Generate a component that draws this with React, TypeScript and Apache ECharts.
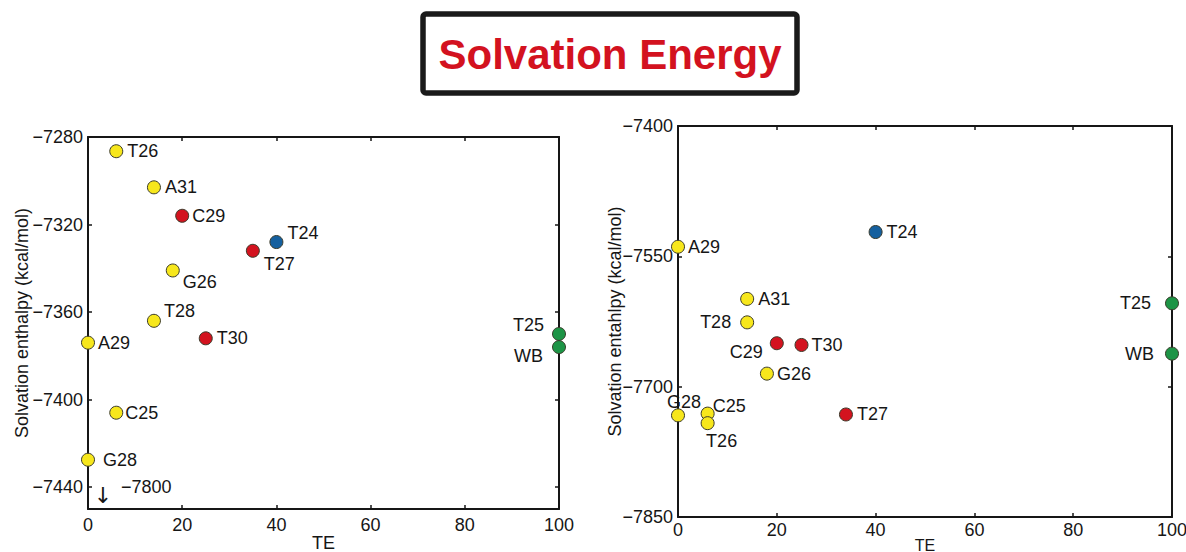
import React, { useEffect, useRef } from "react";
import * as echarts from "echarts";

// ---------- data ----------
const leftNames = ["T26", "A31", "C29", "T24", "T27", "G26", "T28", "T30", "A29", "C25", "G28", "T25", "WB"];
const leftTE = [6, 14, 20, 40, 35, 18, 14, 25, 0, 6, 0, 100, 100];
const leftEnthalpy = [-7286.5, -7303, -7316, -7328, -7332, -7341, -7364, -7372, -7374, -7406, -7427.5, -7370, -7376];
const leftGroup = ["Y", "Y", "R", "B", "R", "Y", "Y", "R", "Y", "Y", "Y", "G", "G"];

const rightNames = ["A29", "T24", "A31", "T28", "C29", "T30", "G26", "G28", "C25", "T26", "T27", "T25", "WB"];
const rightTE = [0, 40, 14, 14, 20, 25, 18, 0, 6, 6, 34, 100, 100];
const rightEnthalpy = [-7539, -7522, -7599, -7626, -7650, -7652, -7685, -7733, -7731, -7742, -7732, -7604, -7662];
const rightGroup = ["Y", "B", "Y", "Y", "R", "R", "Y", "Y", "Y", "Y", "R", "G", "G"];

const xTicks = [0, 20, 40, 60, 80, 100];
const leftYTicks = [-7440, -7400, -7360, -7320, -7280];
const rightYTicks = [-7850, -7700, -7550, -7400];

const titleText = "Solvation Energy";
const xName = "TE";
const leftYName = "Solvation enthalpy (kcal/mol)";
const rightYName = "Solvation entahlpy (kcal/mol)";
const breakArrow = "\u2193";
const breakValue = "\u22127800";

// ---------- styles ----------
const groupColors: Record<string, string> = {
  Y: "#f7e71c",
  R: "#d3131f",
  B: "#15609f",
  G: "#1d9446",
};

type LabelLayout = { position: string; distance: number; offset?: [number, number] };

const leftLabelLayout: Record<string, LabelLayout> = {
  T26: { position: "right", distance: 4 },
  A31: { position: "right", distance: 4 },
  C29: { position: "right", distance: 3 },
  T24: { position: "right", distance: 4, offset: [0, -9] },
  T27: { position: "right", distance: 4, offset: [0, 13] },
  G26: { position: "right", distance: 3, offset: [0, 12] },
  T28: { position: "right", distance: 3, offset: [0, -10] },
  T30: { position: "right", distance: 4 },
  A29: { position: "right", distance: 3 },
  C25: { position: "right", distance: 2 },
  G28: { position: "right", distance: 8 },
  T25: { position: "left", distance: 8, offset: [0, -9] },
  WB: { position: "left", distance: 9, offset: [0, 9] },
};

const rightLabelLayout: Record<string, LabelLayout> = {
  A29: { position: "right", distance: 3 },
  T24: { position: "right", distance: 4 },
  A31: { position: "right", distance: 4 },
  T28: { position: "left", distance: 9 },
  C29: { position: "left", distance: 7, offset: [0, 9] },
  T30: { position: "right", distance: 3 },
  G26: { position: "right", distance: 3 },
  G28: { position: "top", distance: 0, offset: [6, 3] },
  C25: { position: "right", distance: -2, offset: [0, -8] },
  T26: { position: "bottom", distance: 2, offset: [14, 0] },
  T27: { position: "right", distance: 4 },
  T25: { position: "left", distance: 14 },
  WB: { position: "left", distance: 11 },
};

const FONT = "'Liberation Sans', Arial, Helvetica, sans-serif";
const INK = "#161616";

const minus = (v: number) => String(v).replace("-", "\u2212");

function buildData(names: string[], te: number[], h: number[], grp: string[], layout: Record<string, LabelLayout>) {
  return names.map((n, i) => {
    const l = layout[n];
    return {
      name: n,
      value: [te[i], h[i]],
      itemStyle: { color: groupColors[grp[i]] },
      label: {
        show: true,
        formatter: n,
        position: l.position,
        distance: l.distance,
        offset: l.offset || [0, 0],
        color: INK,
        fontSize: 18,
        fontFamily: FONT,
      },
    };
  });
}

function xAxisPair(gridIndex: number, labelMargin: number, nameGap: number, nameSize: number) {
  const common = {
    gridIndex,
    type: "value",
    min: 0,
    max: 100,
    interval: 20,
    splitLine: { show: false },
    axisLine: { show: true, onZero: false, lineStyle: { color: INK, width: 2 } },
    axisTick: { show: true, inside: true, length: 4, lineStyle: { color: INK, width: 1.5 } },
  };
  return [
    {
      ...common,
      position: "bottom",
      name: xName,
      nameLocation: "middle",
      nameGap,
      nameMoveOverlap: false,
      nameTextStyle: { fontSize: nameSize, color: INK, fontFamily: FONT, verticalAlign: "top" },
      axisLabel: { show: true, fontSize: 18, color: INK, margin: labelMargin, fontFamily: FONT },
    },
    { ...common, position: "top", axisLabel: { show: false } },
  ];
}

function yAxisPair(gridIndex: number, min: number, max: number, ticks: number[], name: string, nameGap: number) {
  const common = {
    gridIndex,
    type: "value",
    min,
    max,
    splitLine: { show: false },
    axisLine: { show: true, onZero: false, lineStyle: { color: INK, width: 2 } },
    axisTick: { show: true, inside: true, length: 4, customValues: ticks, lineStyle: { color: INK, width: 1.5 } },
  };
  return [
    {
      ...common,
      position: "left",
      name,
      nameLocation: "middle",
      nameGap,
      nameMoveOverlap: false,
      nameTextStyle: { fontSize: 18, color: INK, fontFamily: FONT },
      axisLabel: {
        show: true,
        fontSize: 18,
        color: INK,
        margin: 5,
        fontFamily: FONT,
        customValues: ticks,
        formatter: (v: number) => minus(v),
      },
    },
    { ...common, position: "right", axisLabel: { show: false } },
  ];
}

export default function App() {
  const ref = useRef<HTMLDivElement>(null);

  useEffect(() => {
    document.body.style.margin = "0";
    document.body.style.background = "#ffffff";
    if (!ref.current) return;
    const chart = echarts.init(ref.current, null, { renderer: "svg" });

    const seriesCommon = {
      type: "scatter",
      symbol: "circle",
      symbolSize: 13,
      clip: false,
      itemStyle: { borderColor: "#3a3a2a", borderWidth: 1, opacity: 1 },
      label: { fontSize: 18, color: INK, fontFamily: FONT },
      emphasis: { disabled: true },
    };

    const option: any = {
      animation: false,
      backgroundColor: "#ffffff",
      textStyle: { fontFamily: FONT },
      grid: [
        { left: 88, top: 137, width: 471, height: 372, outerBoundsMode: "none", containLabel: false },
        { left: 678, top: 126, width: 494, height: 391, outerBoundsMode: "none", containLabel: false },
      ],
      xAxis: [...xAxisPair(0, 7, 25, 18), ...xAxisPair(1, 4, 20, 16)],
      yAxis: [
        ...yAxisPair(0, -7450, -7280, leftYTicks, leftYName, 57),
        ...yAxisPair(1, -7850, -7400, rightYTicks, rightYName, 54),
      ],
      series: [
        {
          ...seriesCommon,
          xAxisIndex: 0,
          yAxisIndex: 0,
          data: buildData(leftNames, leftTE, leftEnthalpy, leftGroup, leftLabelLayout),
        },
        {
          ...seriesCommon,
          xAxisIndex: 2,
          yAxisIndex: 2,
          data: buildData(rightNames, rightTE, rightEnthalpy, rightGroup, rightLabelLayout),
        },
      ],
      graphic: [
        {
          type: "rect",
          shape: { x: 423, y: 14, width: 374, height: 79, r: 3 },
          style: { fill: "#ffffff", stroke: "#1a1a1a", lineWidth: 5.5 },
          z: 10,
        },
        {
          type: "text",
          x: 610,
          y: 54,
          style: {
            text: titleText,
            fill: "#d3121f",
            font: `bold 42px ${FONT}`,
            textAlign: "center",
            textVerticalAlign: "middle",
          },
          z: 11,
        },
        {
          type: "text",
          x: 103,
          y: 495,
          style: {
            text: breakArrow,
            fill: INK,
            font: `22px 'DejaVu Sans', sans-serif`,
            textAlign: "center",
            textVerticalAlign: "middle",
          },
        },
        {
          type: "text",
          x: 121,
          y: 487,
          style: { text: breakValue, fill: INK, font: `18px ${FONT}`, textAlign: "left", textVerticalAlign: "middle" },
        },
      ],
    };
    void xTicks; // tick labels come from interval 20 across 0..100
    chart.setOption(option);
    return () => chart.dispose();
  }, []);

  return <div ref={ref} style={{ width: 1186, height: 552 }} />;
}
